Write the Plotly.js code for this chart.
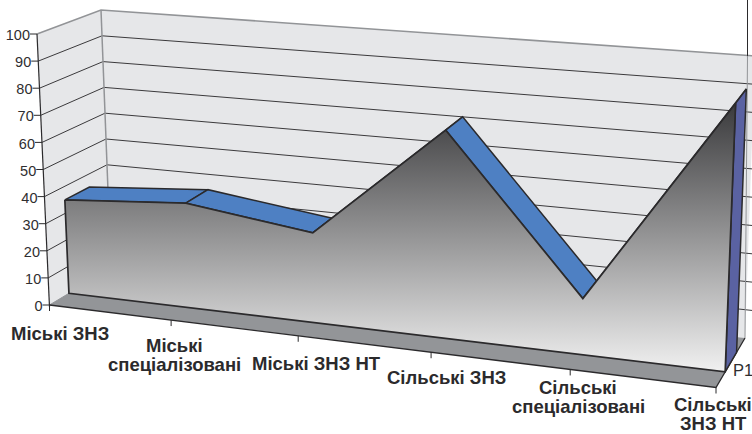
<!DOCTYPE html>
<html>
<head>
<meta charset="utf-8">
<script src="https://cdn.plot.ly/plotly-3.0.1.min.js"></script>
<style>html,body{margin:0;padding:0;background:#fff}#chart{width:752px;height:434px}</style>
</head>
<body>
<div id="chart"></div>
<script>
// Share of schools by type, series P1
const categories = ['Міські ЗНЗ', 'Міські|спеціалізовані', 'Міські ЗНЗ НТ', 'Сільські ЗНЗ', 'Сільські|спеціалізовані', 'Сільські|ЗНЗ НТ'];
const values = [35, 38.5, 32.5, 74, 19.6, 92];
const valueTicks = [0, 10, 20, 30, 40, 50, 60, 70, 80, 90, 100];
const seriesName = 'P1';

// Corners of the 3D box on the page: [across][depth][height]
const box = {
  frontLeftBottom: [49.5, 305], frontLeftTop: [37, 34],
  backLeftBottom: [111, 268], backLeftTop: [101, 10],
  frontRightBottom: [716, 387.5], frontRightTop: [728, 91],
  backRightBottom: [745, 338], backRightTop: [755, 56]
};
const PERSPECTIVE = 1.12;      // the right side of the box is closer to the viewer
const AREA_FRONT = 0.316;      // depth of the area's front face
const AREA_BACK = 0.71;        // depth of the area's back face
const labelOffsets = [[10, 28], [3.5, 35], [18, 27.5], [15, 25], [8, 28], [-3, 26]];
const LINE_GAP = 19;           // distance between the two lines of a wrapped label

const mix = (a, b, t) => [a[0] + (b[0] - a[0]) * t, a[1] + (b[1] - a[1]) * t];
const across = t => t / (t + PERSPECTIVE * (1 - t));

// Projects a category position (0..n-1), a depth (0..1) and a value (0..100) onto the page
function project(cat, depth, value, raw) {
  const s = raw ? cat : across(cat / (categories.length - 1));
  const bottom = mix(mix(box.frontLeftBottom, box.frontRightBottom, s), mix(box.backLeftBottom, box.backRightBottom, s), depth);
  const top = mix(mix(box.frontLeftTop, box.frontRightTop, s), mix(box.backLeftTop, box.backRightTop, s), depth);
  return mix(bottom, top, value / 100);
}

const last = categories.length - 1;
const traces = [];
function poly(points, opts) {
  const closed = opts.close ? points.concat([points[0]]) : points;
  traces.push(Object.assign({
    type: 'scatter', mode: 'lines', hoverinfo: 'skip',
    x: closed.map(p => p[0]), y: closed.map(p => p[1]),
    line: opts.line || {width: 0, color: 'rgba(0,0,0,0)'}
  }, opts.fill ? {fill: 'toself', fillcolor: opts.fill} : {}, opts.extra || {}));
}

const WALL = '#e6e7e9', FLOOR = '#939598', INK = '#2b2a2c', EDGE = '#929497';
const BLUE = '#4e80c3', SIDE = '#5a62a2';

// Walls
poly([project(0, 0, 0), project(0, 1, 0), project(0, 1, 100), project(0, 0, 100)], {fill: WALL, close: true});
poly([project(0, 1, 0), project(last, 1, 0), project(last, 1, 100), project(0, 1, 100)], {fill: WALL, close: true});

// Gridlines run along the side wall and then the back wall
valueTicks.slice(1, -1).forEach(v => {
  poly([project(0, 0, v), project(0, 1, v), project(1.012, 1, v, true)], {line: {color: '#3b3a3c', width: 1}});
});

// Wall edges
poly([project(0, 0, 100), project(0, 1, 100), project(1.012, 1, 100, true)], {line: {color: EDGE, width: 1.6}});
poly([project(0, 1, 100), project(0, 1, 0)], {line: {color: EDGE, width: 1.5}});
poly([[747.5, 56], project(last, 1, 0)], {line: {color: EDGE, width: 1}});
poly([[747.5, 0], [747.5, 56]], {line: {color: INK, width: 1}});

// Floor
poly([project(0, 0, 0), project(0, 1, 0), project(last, 1, 0), project(last, 0, 0)], {fill: FLOOR, close: true});
poly([project(0, 1, 0), project(0, 0, 0)], {line: {color: EDGE, width: 1}});
poly([project(0, 0, 0), project(last, 0, 0), project(last, 1, 0)], {line: {color: INK, width: 1.3}});

// Value axis with its ticks
poly([project(0, 0, 100), project(0, 0, 0), [project(0, 0, 0)[0], project(0, 0, 0)[1] + 2]], {line: {color: INK, width: 1.2}});
const tickPoints = valueTicks.map(v => project(0, 0, v));
tickPoints.forEach(p => poly([[p[0] - 7, p[1]], p], {line: {color: INK, width: 1}}));
traces.push({
  type: 'scatter', mode: 'text', hoverinfo: 'skip', cliponaxis: false,
  x: tickPoints.map(p => p[0] - 7), y: tickPoints.map(p => p[1] + 2.5),
  text: valueTicks.map(String), textposition: 'middle left',
  textfont: {family: 'Liberation Sans, Arial, sans-serif', size: 14.5, color: '#2f2e30'}
});

// Category ticks under the floor's front edge
categories.forEach((c, i) => {
  const p = project(i, 0, 0);
  poly([p, [p[0], p[1] + 6]], {line: {color: INK, width: 1}});
});

// Top surface of the area, one strip per segment, then the end cap
for (let i = 0; i < last; i++) {
  poly([project(i, AREA_FRONT, values[i]), project(i + 1, AREA_FRONT, values[i + 1]),
        project(i + 1, AREA_BACK, values[i + 1]), project(i, AREA_BACK, values[i])],
       {fill: BLUE, close: true, line: {color: INK, width: 1.5}});
}
poly([project(last, AREA_FRONT, values[last]), project(last, AREA_BACK, values[last]),
      project(last, AREA_BACK, 0), project(last, AREA_FRONT, 0)],
     {fill: SIDE, close: true, line: {color: INK, width: 1.5}});

// Front face of the area, shaded from dark at the top to pale at the bottom
const outline = values.map((v, i) => project(i, AREA_FRONT, v));
outline.push(project(last, AREA_FRONT, 0), project(0, AREA_FRONT, 0));
poly(outline, {close: true, line: {color: INK, width: 1.7}, extra: {
  fill: 'toself',
  fillgradient: {type: 'vertical', start: 103, stop: 371, colorscale: [[0, '#3a3a3c'], [1, '#f0f0f0']]}
}});

// Category labels: wrapped names get one annotation per line to keep the lines tight
const annotations = [];
categories.forEach((c, i) => {
  const p = project(i, 0, 0);
  const lines = c.split('|');
  lines.forEach((text, k) => {
    annotations.push({
      xref: 'x', yref: 'y', x: p[0] + labelOffsets[i][0],
      y: p[1] + labelOffsets[i][1] + (k - (lines.length - 1) / 2) * LINE_GAP,
      text: '<b>' + text + '</b>', showarrow: false, xanchor: 'center', yanchor: 'middle',
      font: {family: 'Liberation Sans, Arial, sans-serif', size: 18.5, color: '#2b2a2c'}
    });
  });
});
annotations.push({
  xref: 'x', yref: 'y', x: 731, y: 370, text: seriesName, showarrow: false,
  xanchor: 'left', yanchor: 'middle',
  font: {family: 'Liberation Sans, Arial, sans-serif', size: 16.5, color: '#2f2e30'}
});

Plotly.newPlot('chart', traces, {
  width: 752, height: 434,
  margin: {l: 0, r: 0, t: 0, b: 0},
  paper_bgcolor: '#fff', plot_bgcolor: '#fff',
  showlegend: false,
  xaxis: {visible: false, range: [0, 752], fixedrange: true},
  yaxis: {visible: false, range: [434, 0], fixedrange: true},
  annotations
}, {displayModeBar: false, staticPlot: true});
</script>
</body>
</html>
